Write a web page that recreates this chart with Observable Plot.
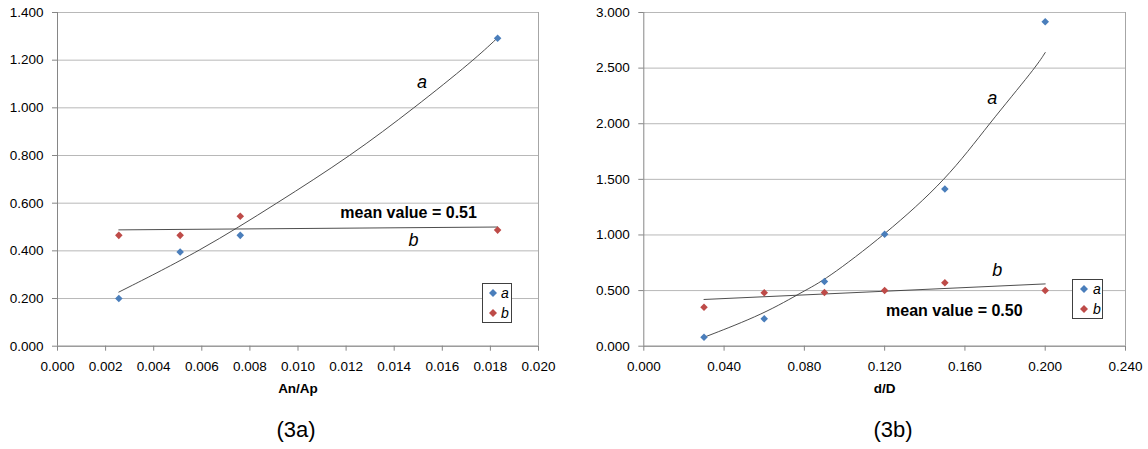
<!DOCTYPE html>
<html><head><meta charset="utf-8">
<script src="https://cdn.jsdelivr.net/npm/d3@7"></script>
<script src="https://cdn.jsdelivr.net/npm/@observablehq/plot@0.6"></script>
<style>
body{margin:0;background:#fff;font-family:"Liberation Sans",Arial,sans-serif;}
#wrap{position:relative;width:1148px;height:449px;overflow:hidden;background:#fff;}
.panel{position:absolute;top:0;}
.cap{position:absolute;font-size:22px;transform:translate(-50%,-50%);white-space:nowrap;color:#000;}
.legend{position:absolute;border:1px solid #404040;background:#fff;box-sizing:border-box;font-size:14px;font-style:italic;color:#000;}
.legend .row{position:absolute;left:0;height:20px;display:flex;align-items:center;}
</style>
</head><body>
<div id="wrap"></div>
<script>
// ---- Panel (3a) data ----
const xA = [0.00255, 0.0051, 0.0076, 0.0183];
const aA = [0.200, 0.395, 0.465, 1.292];
const bA = [0.465, 0.465, 0.545, 0.487];
const trendAaX = [0.00255, 0.00595, 0.00913, 0.01221, 0.01484, 0.01731, 0.0183];
const trendAaY = [0.227, 0.400, 0.600, 0.800, 1.000, 1.200, 1.294];
const trendAbX = [0.00255, 0.0183];
const trendAbY = [0.488, 0.500];
const xTicksA = [0, 0.002, 0.004, 0.006, 0.008, 0.010, 0.012, 0.014, 0.016, 0.018, 0.020];
const yTicksA = [0, 0.2, 0.4, 0.6, 0.8, 1.0, 1.2, 1.4];
const curveLabelsA = [{text: "a", x: 0.01516, y: 1.106}, {text: "b", x: 0.0148, y: 0.443}];
const meanLabelA = [{text: "mean value = 0.51", x: 0.0146, y: 0.558}];

// ---- Panel (3b) data ----
const xB = [0.03, 0.06, 0.09, 0.12, 0.15, 0.20];
const aB = [0.081, 0.246, 0.581, 1.006, 1.414, 2.917];
const bB = [0.350, 0.480, 0.482, 0.500, 0.570, 0.500];
const trendBaX = [0.03, 0.06, 0.08, 0.09, 0.12, 0.151, 0.172, 0.195, 0.20];
const trendBaY = [0.08, 0.29, 0.50, 0.59, 1.00, 1.50, 2.00, 2.50, 2.64];
const trendBbX = [0.03, 0.20];
const trendBbY = [0.42, 0.56];
const xTicksB = [0, 0.04, 0.08, 0.12, 0.16, 0.20, 0.24];
const yTicksB = [0, 0.5, 1.0, 1.5, 2.0, 2.5, 3.0];
const curveLabelsB = [{text: "a", x: 0.1736, y: 2.225}, {text: "b", x: 0.1761, y: 0.680}];
const meanLabelB = [{text: "mean value = 0.50", x: 0.1547, y: 0.321}];

const seriesNames = ["a", "b"];
const seriesColors = ["#4a7ebb", "#be4b48"];

const FONT = '"Liberation Sans", Arial, sans-serif';
const fmt3 = d3.format(".3f");

function panel(o) {
  const pts = o.xs.flatMap((x, i) => [{x, y: o.as[i], s: "a"}, {x, y: o.bs[i], s: "b"}]);
  const ta = o.taX.map((x, i) => ({x, y: o.taY[i]}));
  const tb = o.tbX.map((x, i) => ({x, y: o.tbY[i]}));
  return Plot.plot({
    width: 574, height: 400,
    marginLeft: o.marginLeft, marginRight: o.marginRight, marginTop: 12, marginBottom: 54.3,
    style: {fontFamily: FONT, fontSize: "13.5px", color: "#000", background: "transparent", overflow: "visible"},
    x: {domain: o.xDomain},
    y: {domain: o.yDomain},
    color: {domain: seriesNames, range: seriesColors},
    marks: [
      Plot.gridY(o.yTicks, {stroke: "#b8b8b8", strokeOpacity: 1}),
      Plot.ruleX([o.xDomain[1]], {stroke: "#a6a6a6"}),
      Plot.ruleY([o.yDomain[0]], {stroke: "#868686"}),
      Plot.ruleX([o.xDomain[0]], {stroke: "#868686"}),
      Plot.axisY({ticks: o.yTicks, tickFormat: fmt3, tickSize: 5, tickPadding: 9, stroke: "#868686", label: null}),
      Plot.axisX({ticks: o.xTicks, tickFormat: fmt3, tickSize: 5, tickPadding: 10, stroke: "#868686", label: null}),
      Plot.line(ta, {x: "x", y: "y", curve: "basis", stroke: "#3a3a3a", strokeWidth: 0.9}),
      Plot.line(tb, {x: "x", y: "y", stroke: "#3a3a3a", strokeWidth: 0.9}),
      Plot.dot(pts, {x: "x", y: "y", fill: "s", symbol: "diamond2", r: 3.4}),
      Plot.text(o.curveLabels, {x: "x", y: "y", text: "text", fontStyle: "italic", fontSize: 18, fill: "#000"}),
      Plot.text(o.meanLabel, {x: "x", y: "y", text: "text", fontWeight: "bold", fontSize: 16, fill: "#000"}),
      Plot.text([o.xLabel], {frameAnchor: "bottom", dy: 42, lineAnchor: "middle", fontWeight: "bold", fill: "#000"})
    ]
  });
}

function legend(left, top, width, diamondX, textX) {
  const box = document.createElement("div");
  box.className = "legend";
  Object.assign(box.style, {left: left + "px", top: top + "px", width: width + "px", height: "40px"});
  seriesNames.forEach((name, i) => {
    const row = document.createElement("div");
    row.className = "row";
    row.style.top = (i * 20 - 1) + "px";
    row.style.width = width + "px";
    row.innerHTML = `<svg width="${width}" height="20" style="position:absolute;left:0;top:0">
      <path d="M${diamondX},6 L${diamondX + 4},10 L${diamondX},14 L${diamondX - 4},10 Z" fill="${seriesColors[i]}"/></svg>
      <span style="position:absolute;left:${textX}px;top:1px;line-height:18px">${name}</span>`;
    box.appendChild(row);
  });
  return box;
}

const wrap = document.getElementById("wrap");

const pA = panel({xs: xA, as: aA, bs: bA, taX: trendAaX, taY: trendAaY, tbX: trendAbX, tbY: trendAbY,
  xTicks: xTicksA, yTicks: yTicksA, xDomain: [0, 0.02], yDomain: [0, 1.4], xLabel: "An/Ap",
  curveLabels: curveLabelsA, meanLabel: meanLabelA, marginLeft: 57, marginRight: 36});
const dA = document.createElement("div"); dA.className = "panel"; dA.style.left = "0px"; dA.appendChild(pA); wrap.appendChild(dA);

const pB = panel({xs: xB, as: aB, bs: bB, taX: trendBaX, taY: trendBaY, tbX: trendBbX, tbY: trendBbY,
  xTicks: xTicksB, yTicks: yTicksB, xDomain: [0, 0.24], yDomain: [0, 3.0], xLabel: "d/D",
  curveLabels: curveLabelsB, meanLabel: meanLabelB, marginLeft: 69.3, marginRight: 23});
const dB = document.createElement("div"); dB.className = "panel"; dB.style.left = "574px"; dB.appendChild(pB); wrap.appendChild(dB);

wrap.appendChild(legend(482, 283, 30, 10, 18));
wrap.appendChild(legend(1072, 279, 31, 11, 20));

[["(3a)", 296], ["(3b)", 893]].forEach(([t, x]) => {
  const c = document.createElement("div");
  c.className = "cap"; c.textContent = t;
  c.style.left = x + "px"; c.style.top = "430px";
  wrap.appendChild(c);
});
</script>
</body></html>
